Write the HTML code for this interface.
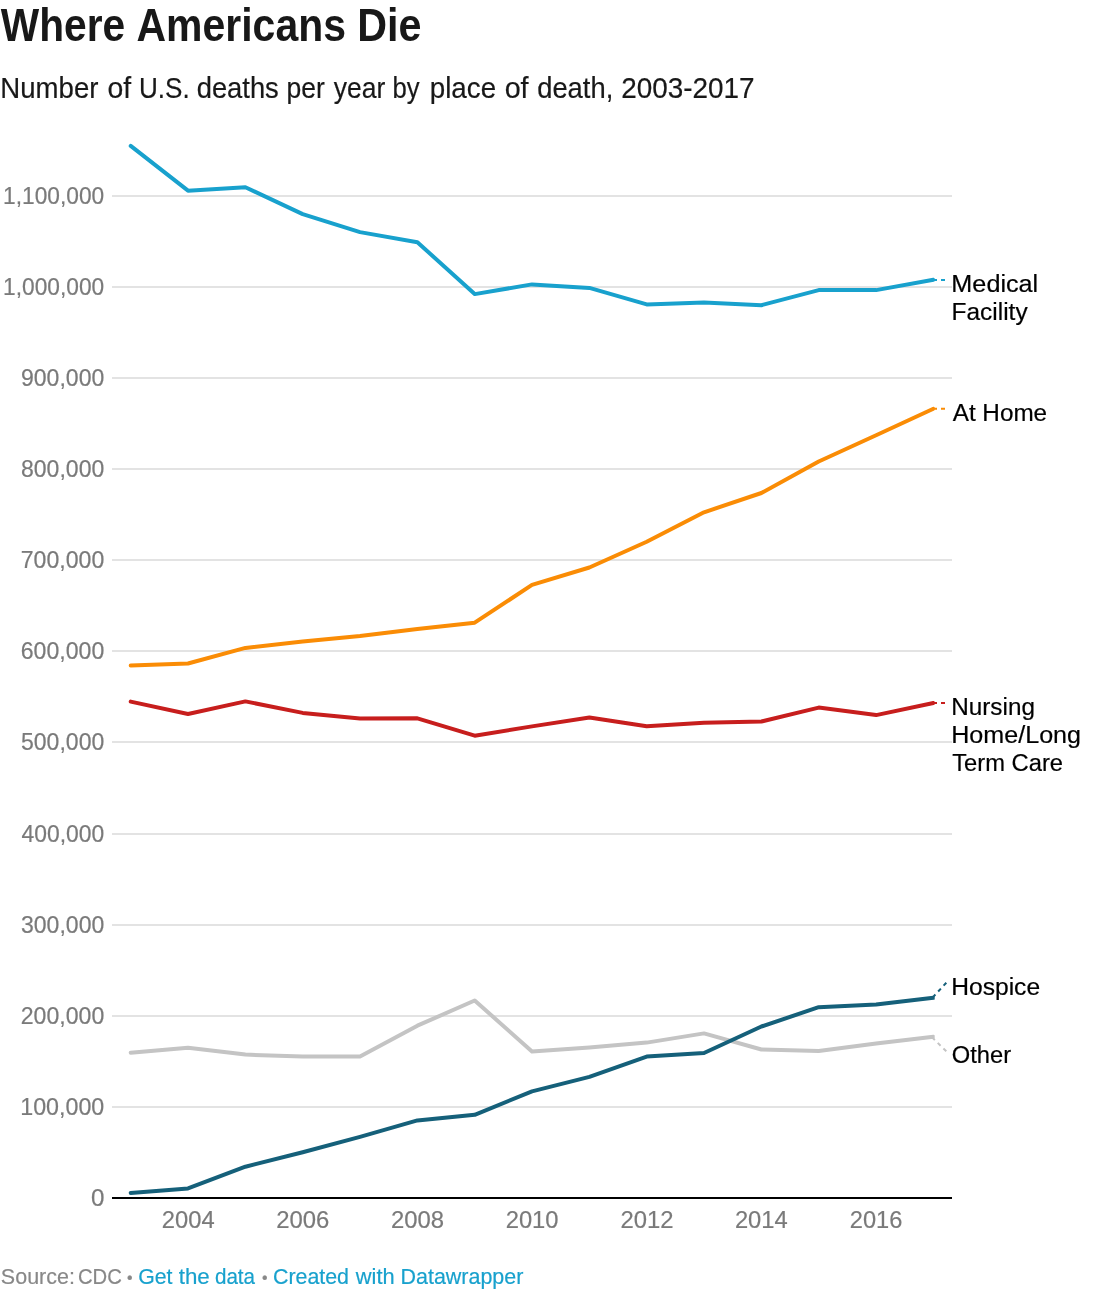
<!DOCTYPE html>
<html lang="en">
<head>
<meta charset="utf-8">
<title>Where Americans Die</title>
<style>
html,body{margin:0;padding:0;background:#fff;}
body{width:1100px;height:1300px;position:relative;overflow:hidden;font-family:"Liberation Sans",sans-serif;color:#181818;}
.hl,.sub{margin:0;}
.hl span,.sub span,.foot span span,.foot a span{position:absolute;left:0;top:0;margin:0;white-space:nowrap;transform-origin:0 0;}
.hl{font-weight:700;color:#181818;}
.sub{font-weight:400;color:#181818;-webkit-text-stroke:0.2px #181818;}
.foot{position:absolute;left:0;top:0;color:#888888;-webkit-text-stroke:0.2px currentColor;}
.foot a{color:#18a1cd;text-decoration:none;}
.wrap{position:absolute;left:0;top:0;width:1100px;height:1300px;will-change:transform;}
.chart{position:absolute;left:0;top:0;}
.chart text{font-family:"Liberation Sans",sans-serif;}
.ax{fill:#7a7a7a;font-size:24.0px;stroke:#7a7a7a;stroke-width:0.2;}
.lb{fill:#000000;font-size:24.2px;stroke:#000000;stroke-width:0.2;}
.ln{fill:none;stroke-width:4;stroke-linejoin:round;stroke-linecap:round;}
.cn{fill:none;stroke-width:2;stroke-dasharray:4 4;}
</style>
</head>
<body>
<div class="wrap">
<h1 class="hl"><span style="font-size:46.4px;line-height:52px;transform:translate(0.74px,-1.05px) scaleX(0.8771)">Where</span> <span style="font-size:46.4px;line-height:52px;transform:translate(136.48px,-1.05px) scaleX(0.8832)">Americans</span> <span style="font-size:46.4px;line-height:52px;transform:translate(357.16px,-1.05px) scaleX(0.8894)">Die</span></h1>
<p class="sub"><span style="font-size:29.1px;line-height:36px;transform:translate(0.29px,69.65px) scaleX(0.9482)">Number</span> <span style="font-size:29.1px;line-height:36px;transform:translate(107.54px,69.65px) scaleX(0.9759)">of</span> <span style="font-size:29.1px;line-height:36px;transform:translate(139.00px,69.65px) scaleX(0.8963)">U.S.</span> <span style="font-size:29.1px;line-height:36px;transform:translate(196.68px,69.65px) scaleX(0.9401)">deaths</span> <span style="font-size:29.1px;line-height:36px;transform:translate(286.55px,69.65px) scaleX(0.9123)">per</span> <span style="font-size:29.1px;line-height:36px;transform:translate(333.74px,69.65px) scaleX(0.9124)">year</span> <span style="font-size:29.1px;line-height:36px;transform:translate(392.50px,69.65px) scaleX(0.8830)">by</span> <span style="font-size:29.1px;line-height:36px;transform:translate(429.76px,69.65px) scaleX(0.9541)">place</span> <span style="font-size:29.1px;line-height:36px;transform:translate(504.66px,69.65px) scaleX(0.9863)">of</span> <span style="font-size:29.1px;line-height:36px;transform:translate(537.18px,69.65px) scaleX(0.9403)">death,</span> <span style="font-size:29.1px;line-height:36px;transform:translate(621.22px,69.65px) scaleX(0.9581)">2003-2017</span></p>
<svg class="chart" width="1100" height="1300" viewBox="0 0 1100 1300">
<g stroke="#e3e3e3" stroke-width="2" shape-rendering="crispEdges">
<line x1="112" x2="952" y1="1107" y2="1107"/>
<line x1="112" x2="952" y1="1016" y2="1016"/>
<line x1="112" x2="952" y1="925" y2="925"/>
<line x1="112" x2="952" y1="834" y2="834"/>
<line x1="112" x2="952" y1="742" y2="742"/>
<line x1="112" x2="952" y1="651" y2="651"/>
<line x1="112" x2="952" y1="560" y2="560"/>
<line x1="112" x2="952" y1="469" y2="469"/>
<line x1="112" x2="952" y1="378" y2="378"/>
<line x1="112" x2="952" y1="287" y2="287"/>
<line x1="112" x2="952" y1="196" y2="196"/>
</g>
<g>
<text class="ax" x="90.92" y="1206.00" textLength="13.47" lengthAdjust="spacingAndGlyphs">0</text>
<text class="ax" x="20.20" y="1115.00" textLength="84.10" lengthAdjust="spacingAndGlyphs">100,000</text>
<text class="ax" x="20.72" y="1024.00" textLength="83.57" lengthAdjust="spacingAndGlyphs">200,000</text>
<text class="ax" x="20.97" y="933.00" textLength="83.32" lengthAdjust="spacingAndGlyphs">300,000</text>
<text class="ax" x="21.47" y="842.00" textLength="82.81" lengthAdjust="spacingAndGlyphs">400,000</text>
<text class="ax" x="20.97" y="750.00" textLength="83.32" lengthAdjust="spacingAndGlyphs">500,000</text>
<text class="ax" x="20.72" y="659.00" textLength="83.58" lengthAdjust="spacingAndGlyphs">600,000</text>
<text class="ax" x="20.72" y="568.00" textLength="83.58" lengthAdjust="spacingAndGlyphs">700,000</text>
<text class="ax" x="20.97" y="477.00" textLength="83.32" lengthAdjust="spacingAndGlyphs">800,000</text>
<text class="ax" x="20.97" y="386.00" textLength="83.32" lengthAdjust="spacingAndGlyphs">900,000</text>
<text class="ax" x="3.12" y="295.00" textLength="101.16" lengthAdjust="spacingAndGlyphs">1,000,000</text>
<text class="ax" x="3.12" y="204.00" textLength="101.16" lengthAdjust="spacingAndGlyphs">1,100,000</text>
</g>
<g>
<text class="ax" x="161.87" y="1228.00" textLength="52.84" lengthAdjust="spacingAndGlyphs">2004</text>
<text class="ax" x="276.25" y="1228.00" textLength="53.11" lengthAdjust="spacingAndGlyphs">2006</text>
<text class="ax" x="390.97" y="1228.00" textLength="53.10" lengthAdjust="spacingAndGlyphs">2008</text>
<text class="ax" x="505.69" y="1228.00" textLength="52.85" lengthAdjust="spacingAndGlyphs">2010</text>
<text class="ax" x="620.42" y="1228.00" textLength="53.10" lengthAdjust="spacingAndGlyphs">2012</text>
<text class="ax" x="734.92" y="1228.00" textLength="52.84" lengthAdjust="spacingAndGlyphs">2014</text>
<text class="ax" x="849.76" y="1228.00" textLength="52.60" lengthAdjust="spacingAndGlyphs">2016</text>
</g>
<defs><clipPath id="plot"><rect x="112" y="120" width="822.7" height="1090"/></clipPath></defs>
<polyline class="ln" clip-path="url(#plot)" stroke="#c4c4c4" points="130.7,1052.7 188.0,1047.8 245.4,1054.6 302.7,1056.6 360.0,1056.6 417.4,1025.7 474.7,1000.5 532.0,1051.4 589.4,1047.4 646.7,1042.6 704.0,1033.4 761.4,1049.5 818.7,1050.9 876.1,1043.5 933.4,1036.8"/>
<line class="cn" stroke="#c4c4c4" x1="932.0" y1="1037.3" x2="946.3" y2="1051.3"/>
<polyline class="ln" clip-path="url(#plot)" stroke="#15607a" points="130.7,1192.9 188.0,1188.4 245.4,1166.7 302.7,1152.2 360.0,1136.9 417.4,1120.4 474.7,1114.8 532.0,1091.4 589.4,1076.9 646.7,1056.6 704.0,1053.0 761.4,1026.5 818.7,1007.2 876.1,1004.4 933.4,997.8"/>
<line class="cn" stroke="#15607a" x1="932.7" y1="997.4" x2="946.3" y2="982.8"/>
<polyline class="ln" clip-path="url(#plot)" stroke="#c71e1d" points="130.7,701.6 188.0,714.0 245.4,701.4 302.7,712.9 360.0,718.5 417.4,718.3 474.7,735.7 532.0,726.4 589.4,717.6 646.7,726.3 704.0,722.7 761.4,721.5 818.7,707.6 876.1,715.1 933.4,703.0"/>
<line class="cn" stroke="#c71e1d" x1="933.0" y1="703.1" x2="945.0" y2="703.1"/>
<polyline class="ln" clip-path="url(#plot)" stroke="#fa8c05" points="130.7,665.5 188.0,663.5 245.4,647.9 302.7,641.5 360.0,636.0 417.4,629.1 474.7,622.7 532.0,584.9 589.4,567.5 646.7,541.8 704.0,512.3 761.4,493.0 818.7,461.5 876.1,435.3 933.4,408.8"/>
<line class="cn" stroke="#fa8c05" x1="933.0" y1="408.7" x2="945.0" y2="408.7"/>
<polyline class="ln" clip-path="url(#plot)" stroke="#18a1cd" points="130.7,145.9 188.0,190.7 245.4,187.3 302.7,214.1 360.0,232.1 417.4,242.2 474.7,294.1 532.0,284.4 589.4,287.9 646.7,304.4 704.0,302.5 761.4,305.2 818.7,290.1 876.1,290.1 933.4,279.8"/>
<line class="cn" stroke="#18a1cd" x1="933.0" y1="280.0" x2="945.0" y2="280.0"/>
<line x1="112" x2="952" y1="1198" y2="1198" stroke="#000" stroke-width="2" shape-rendering="crispEdges"/>
<g>
<text class="lb" x="951.37" y="292.00" textLength="86.88" lengthAdjust="spacingAndGlyphs">Medical</text>
<text class="lb" x="951.62" y="320.00" textLength="75.99" lengthAdjust="spacingAndGlyphs">Facility</text>
<text class="lb" x="952.70" y="421.00" textLength="94.43" lengthAdjust="spacingAndGlyphs">At Home</text>
<text class="lb" x="951.24" y="715.00" textLength="83.70" lengthAdjust="spacingAndGlyphs">Nursing</text>
<text class="lb" x="951.18" y="743.00" textLength="129.88" lengthAdjust="spacingAndGlyphs">Home/Long</text>
<text class="lb" x="952.19" y="771.00" textLength="110.82" lengthAdjust="spacingAndGlyphs">Term Care</text>
<text class="lb" x="951.21" y="995.00" textLength="88.92" lengthAdjust="spacingAndGlyphs">Hospice</text>
<text class="lb" x="951.73" y="1063.00" textLength="59.32" lengthAdjust="spacingAndGlyphs">Other</text>
</g>
</svg>
<div class="foot"><span class="src"><span style="font-size:22.6px;line-height:28px;transform:translate(0.84px,1262.55px) scaleX(0.9512)">Source:</span> <span style="font-size:22.6px;line-height:28px;transform:translate(77.93px,1262.55px) scaleX(0.8965)">CDC</span></span> <span class="sep"><span style="font-size:15.8px;line-height:28px;transform:translate(127.00px,1263.75px) scaleX(1.0000)">&bull;</span></span> <a><span style="font-size:22.6px;line-height:28px;transform:translate(138.20px,1262.55px) scaleX(0.9411)">Get</span> <span style="font-size:22.6px;line-height:28px;transform:translate(178.68px,1262.55px) scaleX(0.9885)">the</span> <span style="font-size:22.6px;line-height:28px;transform:translate(214.92px,1262.55px) scaleX(0.9125)">data</span></a> <span class="sep"><span style="font-size:15.8px;line-height:28px;transform:translate(262.00px,1263.75px) scaleX(1.0000)">&bull;</span></span> <a><span style="font-size:22.6px;line-height:28px;transform:translate(272.97px,1262.55px) scaleX(0.9460)">Created</span> <span style="font-size:22.6px;line-height:28px;transform:translate(355.72px,1262.55px) scaleX(0.9686)">with</span> <span style="font-size:22.6px;line-height:28px;transform:translate(400.50px,1262.55px) scaleX(0.9501)">Datawrapper</span></a></div>
</div>
</body>
</html>
